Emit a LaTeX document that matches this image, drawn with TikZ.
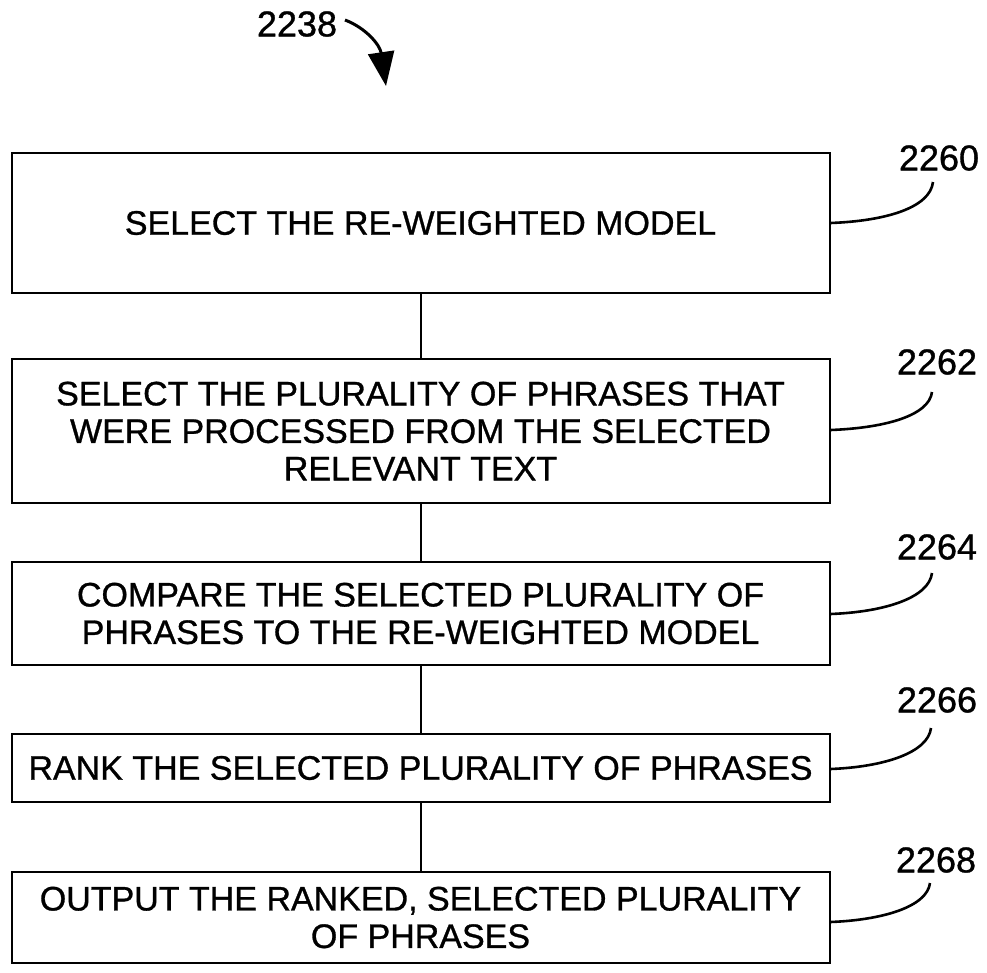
\documentclass[tikz,border=0pt]{standalone}
\usepackage{fontspec}
\setmainfont{Liberation Sans}[FakeBold=0.9]
\usetikzlibrary{arrows.meta}
\tikzset{
  stepbox/.style={draw=black, line width=2pt, align=center, inner sep=0pt,
    font=\fontsize{34}{37.5}\selectfont},
  link/.style={draw=black, line width=2pt},
  leader/.style={draw=black, line width=2.6pt},
  refnum/.style={font=\fontsize{36}{40}\selectfont, inner sep=0pt}
}
\begin{document}
\begin{tikzpicture}[x=1pt,y=-1pt]
\useasboundingbox (0,0) rectangle (987,972);
% steps
\node[stepbox, minimum width=818pt, minimum height=140pt] (b1) at (420.5,223) {SELECT THE RE-WEIGHTED MODEL};
\node[stepbox, minimum width=818pt, minimum height=144pt] (b2) at (420.5,431) {SELECT THE PLURALITY OF PHRASES THAT\\WERE PROCESSED FROM THE SELECTED\\RELEVANT TEXT};
\node[stepbox, minimum width=818pt, minimum height=103pt] (b3) at (420.5,613.5) {COMPARE THE SELECTED PLURALITY OF\\PHRASES TO THE RE-WEIGHTED MODEL};
\node[stepbox, minimum width=818pt, minimum height=68pt] (b4) at (420.5,768) {RANK THE SELECTED PLURALITY OF PHRASES};
\node[stepbox, minimum width=818pt, minimum height=91pt] (b5) at (420.5,917.5) {OUTPUT THE RANKED, SELECTED PLURALITY\\OF PHRASES};
% connectors
\draw[link] (b1.south) -- (b2.north);
\draw[link] (b2.south) -- (b3.north);
\draw[link] (b3.south) -- (b4.north);
\draw[link] (b4.south) -- (b5.north);
% reference numerals
\node[refnum] (n2238) at (297,24) {2238};
\node[refnum] (n2260) at (939,158) {2260};
\node[refnum] (n2262) at (937,362) {2262};
\node[refnum] (n2264) at (937,547) {2264};
\node[refnum] (n2266) at (937,700) {2266};
\node[refnum] (n2268) at (936,860) {2268};
% leaders
\coordinate (e1) at (933,182);
\coordinate (e2) at (932,392);
\coordinate (e3) at (932,573);
\coordinate (e4) at (931,728);
\coordinate (e5) at (930,883);
\draw[leader] (b1.east |- 0,223) .. controls (885,221) and (930,208) .. (e1);
\draw[leader] (b2.east |- 0,430) .. controls (884,428) and (929,416) .. (e2);
\draw[leader] (b3.east |- 0,614) .. controls (884,612) and (929,598) .. (e3);
\draw[leader] (b4.east |- 0,769) .. controls (883,767) and (928,753) .. (e4);
\draw[leader] (b5.east |- 0,922) .. controls (882,920) and (927,907) .. (e5);
% 2238 arrow
\coordinate (a0) at (345,20);
\coordinate (a1) at (386,86);
\draw[line width=3pt, -{Triangle[length=34pt,width=26pt]}] (a0) .. controls (366,28) and (380,45) .. (a1);
\end{tikzpicture}
\end{document}
